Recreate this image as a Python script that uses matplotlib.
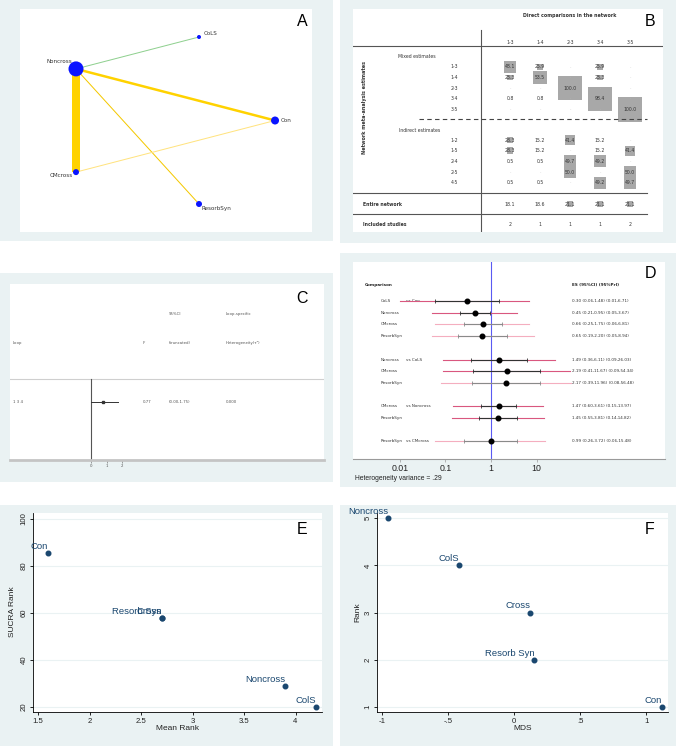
import numpy as np
import matplotlib
matplotlib.use("Agg")
import matplotlib.pyplot as plt
from matplotlib.patches import Rectangle
from matplotlib.ticker import NullLocator

# ======================= DATA =======================
# Panel A: network of treatments
net_nodes = ["Con", "CoLS", "Noncross", "CMcross", "ResorbSyn"]
net_node_weight = [4.0, 2.0, 7.5, 3.0, 3.0]
net_edge_from = ["Noncross", "Noncross", "Noncross", "Noncross", "CMcross"]
net_edge_to = ["CoLS", "Con", "CMcross", "ResorbSyn", "Con"]
net_edge_weight = [1.0, 2.5, 8.0, 1.0, 1.0]

# Panel B: contribution matrix
contrib_cols = ["1-3", "1-4", "2-3", "3-4", "3-5"]
mixed_rows = ["1-3", "1-4", "2-3", "3-4", "3-5"]
mixed_vals = [[48.1, 25.9, None, 25.9, None],
              [23.3, 53.5, None, 23.3, None],
              [None, None, 100.0, None, None],
              [0.8, 0.8, None, 98.4, None],
              [None, None, None, None, 100.0]]
indirect_rows = ["1-2", "1-5", "2-4", "2-5", "4-5"]
indirect_vals = [[28.3, 15.2, 41.4, 15.2, None],
                 [28.3, 15.2, None, 15.2, 41.4],
                 [0.5, 0.5, 49.7, 49.2, None],
                 [None, None, 50.0, None, 50.0],
                 [0.5, 0.5, None, 49.2, 49.7]]
entire_network = [18.1, 18.6, 21.1, 21.1, 21.1]
included_studies = [2, 1, 1, 1, 2]

# Panel C: inconsistency loop
loop_names = ["1 3 4"]
loop_if = [0.77]
loop_ci_lo = [0.00]
loop_ci_hi = [1.75]
loop_tau2 = ["0.000"]

# Panel D: interval plot
d_reference = ["Con", "CoLS", "Noncross", "CMcross"]
d_treatments = [["CoLS", "Noncross", "CMcross", "ResorbSyn"],
                ["Noncross", "CMcross", "ResorbSyn"],
                ["CMcross", "ResorbSyn"],
                ["ResorbSyn"]]
d_es = [0.30, 0.45, 0.66, 0.65, 1.49, 2.19, 2.17, 1.47, 1.45, 0.99]
d_ci_lo = [0.06, 0.21, 0.25, 0.19, 0.36, 0.41, 0.39, 0.60, 0.55, 0.26]
d_ci_hi = [1.48, 0.95, 1.75, 2.20, 6.11, 11.67, 11.96, 3.61, 3.81, 3.72]
d_pi_lo = [0.01, 0.05, 0.06, 0.05, 0.09, 0.09, 0.08, 0.15, 0.14, 0.06]
d_pi_hi = [6.71, 3.67, 6.81, 8.94, 26.03, 54.34, 56.48, 13.97, 14.82, 15.48]
d_faded = [False, False, True, True, False, False, True, False, False, True]
heterogeneity_variance = ".29"

# Panel E: SUCRA vs mean rank
e_labels = ["Con", "Cross", "Resorb Syn", "Noncross", "ColS"]
e_mean_rank = [1.6, 2.7, 2.7, 3.9, 4.2]
e_sucra = [85.7, 58.0, 58.0, 28.9, 19.8]

# Panel F: MDS rank
f_labels = ["Noncross", "ColS", "Cross", "Resorb Syn", "Con"]
f_mds = [-0.955, -0.416, 0.123, 0.153, 1.122]
f_rank = [5, 4, 3, 2, 1]

# ======================= LAYOUT =======================
W, H = 676, 746
BG = "#eaf2f3"
NAVY = "#1a476f"
TXT = "#333333"
PX2PT = 72.0 / 100.0

fig = plt.figure(figsize=(W / 100, H / 100), dpi=100)
fig.patch.set_facecolor("white")


def frect(x0, y0, x1, y1):
    return [x0 / W, 1 - y1 / H, (x1 - x0) / W, (y1 - y0) / H]


def bg(x0, y0, x1, y1):
    fig.add_artist(Rectangle((x0 / W, 1 - y1 / H), (x1 - x0) / W, (y1 - y0) / H,
                             transform=fig.transFigure, facecolor=BG,
                             edgecolor="none", zorder=-10))


def blank_axes(x0, y0, x1, y1):
    ax = fig.add_axes(frect(x0, y0, x1, y1))
    ax.set_facecolor("white")
    for s in ax.spines.values():
        s.set_visible(False)
    ax.set_xticks([])
    ax.set_yticks([])
    return ax


def ftext(px, py, s, **kw):
    fig.text(px / W, 1 - py / H, s, **kw)


letter_kw = dict(fontsize=11.5, family="Liberation Sans", ha="center", va="center", color="black")

# ---------------- Panel A ----------------
bg(0, 0, 333, 241)
axA = blank_axes(20, 9, 312, 232)
angles = np.deg2rad(np.arange(len(net_nodes)) * 72.0)
pos = {n: (np.cos(a), np.sin(a)) for n, a in zip(net_nodes, angles)}
axA.set_xlim(-1.318, 1.336)
axA.set_ylim(-1.27, 1.27)
edge_colors = ["#8fd08f", "#ffd200", "#ffd200", "#f4c800", "#ffe37f"]
for a, b, w, c in zip(net_edge_from, net_edge_to, net_edge_weight, edge_colors):
    (xa, ya), (xb, yb) = pos[a], pos[b]
    axA.plot([xa, xb], [ya, yb], color=c, lw=w * PX2PT, solid_capstyle="butt", zorder=1)
for n, w in zip(net_nodes, net_node_weight):
    axA.scatter([pos[n][0]], [pos[n][1]], s=(2 * w * PX2PT) ** 2, color="#0a14ff",
                edgecolors="none", zorder=3)
lab_style = {"Con": ((4, 0), "left", "center"),
             "CoLS": ((3, 2.5), "left", "center"),
             "Noncross": ((-3, 3.5), "right", "bottom"),
             "CMcross": ((-2, -1), "right", "top"),
             "ResorbSyn": ((2, -1.5), "left", "top")}
for n in net_nodes:
    off, ha, va = lab_style[n]
    axA.annotate(n, pos[n], xytext=off, textcoords="offset points", ha=ha, va=va,
                 fontsize=4.1, color=TXT)
ftext(302, 21, "A", **letter_kw)

# ---------------- Panel B ----------------
bg(340, 0, 676, 243)
axB = blank_axes(353, 9, 663, 232)
axB.set_xlim(353, 663)
axB.set_ylim(232, 9)
colx = [510 + 30 * j for j in range(len(contrib_cols))]
fsB = 3.3
axB.text(570, 15, "Direct comparisons in the network", ha="center", va="center",
         fontsize=3.4, fontweight="bold", color=TXT)
for x, c in zip(colx, contrib_cols):
    axB.text(x, 43, c, ha="center", va="center", fontsize=fsB, color=TXT)
axB.plot([353, 663], [46, 46], color="#555555", lw=0.8)
axB.plot([481, 481], [30, 232], color="#555555", lw=0.8)
axB.text(398, 57, "Mixed estimates", ha="left", va="center", fontsize=fsB, color=TXT)
axB.text(399, 130, "Indirect estimates", ha="left", va="center", fontsize=fsB, color=TXT)
axB.plot([419, 647], [119, 119], color="#444444", lw=0.8, dashes=(4, 3))
axB.text(365, 107, "Network meta-analysis estimates", rotation=90, ha="center",
         va="center", fontsize=3.5, fontweight="bold", color=TXT)


def cell(x, y, v):
    if v is None:
        axB.text(x, y, "-", ha="center", va="center", fontsize=2.6, color="#bbbbbb")
        return
    if v >= 20:
        side = 0.245 * v
        axB.add_patch(Rectangle((x - side / 2, y - side / 2), side, side,
                                facecolor="#a8a8a8", edgecolor="none", zorder=1))
    axB.text(x, y, f"{v:.1f}", ha="center", va="center", fontsize=fsB, color=TXT, zorder=2)


for i, (lab, rv) in enumerate(zip(mixed_rows, mixed_vals)):
    y = 67 + 10.6 * i
    axB.text(454, y, lab, ha="center", va="center", fontsize=fsB, color=TXT)
    for x, v in zip(colx, rv):
        cell(x, y, v)
for i, (lab, rv) in enumerate(zip(indirect_rows, indirect_vals)):
    y = 140 + 10.7 * i
    axB.text(454, y, lab, ha="center", va="center", fontsize=fsB, color=TXT)
    for x, v in zip(colx, rv):
        cell(x, y, v)
axB.plot([353, 647], [193, 193], color="#555555", lw=0.8)
axB.text(363, 204, "Entire network", ha="left", va="center", fontsize=fsB,
         fontweight="bold", color=TXT)
for x, v in zip(colx, entire_network):
    cell(x, 204, v)
axB.plot([353, 647], [214, 214], color="#555555", lw=0.8)
axB.text(363, 224, "Included studies", ha="left", va="center", fontsize=fsB,
         fontweight="bold", color=TXT)
for x, v in zip(colx, included_studies):
    axB.text(x, 224, str(v), ha="center", va="center", fontsize=fsB, color=TXT)
ftext(650, 21, "B", **letter_kw)

# ---------------- Panel C ----------------
bg(0, 273, 333, 482)
axC = fig.add_axes(frect(10, 284, 324, 460))
axC.set_facecolor("white")
c_scale = 15.5
c_zero = 91
axC.set_xlim((10 - c_zero) / c_scale, (324 - c_zero) / c_scale)
axC.set_ylim(460, 284)
for k, s in axC.spines.items():
    s.set_visible(k == "bottom")
axC.spines["bottom"].set_color("#c4c4c4")
axC.spines["bottom"].set_linewidth(2.0)
axC.set_yticks([])
axC.set_xticks([0, 1, 2])
axC.set_xticklabels(["0", "1", "2"])
axC.tick_params(axis="x", length=2, width=0.5, color="#777777", labelsize=2.8,
                labelcolor="#555555", pad=1)
cx = lambda px: (px - c_zero) / c_scale
fsC = 2.8
ctc = "#555555"
axC.text(cx(169), 314, "95%CI", fontsize=fsC, color=ctc, va="center")
axC.text(cx(226), 314, "Loop-specific", fontsize=fsC, color=ctc, va="center")
axC.text(cx(13), 343, "Loop", fontsize=fsC, color=ctc, va="center")
axC.text(cx(143), 343, "IF", fontsize=fsC, color=ctc, va="center")
axC.text(cx(169), 343, "(truncated)", fontsize=fsC, color=ctc, va="center")
axC.text(cx(226), 343, "Heterogeneity(\u03c4\u00b2)", fontsize=fsC, color=ctc, va="center")
axC.plot(axC.get_xlim(), [379, 379], color="#cfcfcf", lw=0.8)
axC.plot([0, 0], [379, 460], color="#555555", lw=0.8)
for i, (nm, v, lo, hi, t2) in enumerate(zip(loop_names, loop_if, loop_ci_lo, loop_ci_hi, loop_tau2)):
    y = 402 + 20 * i
    axC.plot([lo, hi], [y, y], color="#333333", lw=0.7)
    axC.plot([v], [y], marker="s", ms=1.8, color="#333333")
    axC.text(cx(13), y, nm, fontsize=fsC, color=ctc, va="center")
    axC.text(cx(143), y, f"{v:.2f}", fontsize=fsC, color=ctc, va="center")
    axC.text(cx(169), y, f"({lo:.2f},{hi:.2f})", fontsize=fsC, color=ctc, va="center")
    axC.text(cx(226), y, t2, fontsize=fsC, color=ctc, va="center")
ftext(302, 299, "C", **letter_kw)

# ---------------- Panel D ----------------
bg(340, 253, 676, 487)
axD = fig.add_axes(frect(353, 262, 665, 459))
axD.set_facecolor("white")
axD.set_xscale("log")
axD.set_xlim(10 ** -3.03, 10 ** 3.82)
axD.set_ylim(13.5, -3.33)
for k, s in axD.spines.items():
    s.set_visible(k == "bottom")
axD.spines["bottom"].set_color("#9a9a9a")
axD.spines["bottom"].set_linewidth(0.8)
axD.set_yticks([])
axD.set_xticks([0.01, 0.1, 1, 10])
axD.set_xticklabels(["0.01", "0.1", "1", "10"], family="Liberation Sans")
axD.xaxis.set_minor_locator(NullLocator())
axD.tick_params(axis="x", length=2, width=0.5, color="#9a9a9a", labelsize=6.3,
                labelcolor="#222222", pad=1.5)
axD.axvline(1, color="#5a5af2", lw=0.8, zorder=1)
lx = lambda px: 10 ** ((px - 491) / 45.5)
fsD = 3.0
axD.text(lx(365), -1.37, "Comparison", fontsize=fsD, fontweight="bold", va="center", color="#222222")
axD.text(lx(572), -1.37, "ES (95%CI) (95%PrI)", fontsize=fsD, fontweight="bold", va="center", color="#222222")
row = 0
idx = 0
for ref, trts in zip(d_reference, d_treatments):
    for j, t in enumerate(trts):
        y = row
        fade = d_faded[idx]
        pink = "#f4aebf" if fade else "#d9577f"
        dark = "#8a8a8a" if fade else "#333333"
        axD.text(lx(381), y, t, fontsize=fsD, va="center", color="#333333", zorder=2)
        if j == 0:
            axD.text(lx(406), y, "vs " + ref, fontsize=fsD, va="center", color="#333333", zorder=2)
        axD.plot([d_pi_lo[idx], d_pi_hi[idx]], [y, y], color=pink, lw=0.8, zorder=3)
        axD.plot([d_ci_lo[idx], d_ci_hi[idx]], [y, y], color=dark, lw=0.8, zorder=4)
        axD.plot([d_ci_lo[idx], d_ci_hi[idx]], [y, y], ls="none", marker="|", ms=2.5,
                 mew=0.6, color=dark, zorder=4)
        axD.plot([d_es[idx]], [y], marker="o", ms=3.3, color="black", zorder=5)
        axD.text(lx(572), y,
                 f"{d_es[idx]:.2f} ({d_ci_lo[idx]:.2f},{d_ci_hi[idx]:.2f}) ({d_pi_lo[idx]:.2f},{d_pi_hi[idx]:.2f})",
                 fontsize=fsD, va="center", color="#333333")
        row += 1
        idx += 1
    row += 1
ftext(355, 479, "Heterogeneity variance = " + heterogeneity_variance, fontsize=4.9,
      family="Liberation Sans", ha="left", va="center", color="#222222")
ftext(650, 273, "D", **letter_kw)


# ---------------- Panels E & F ----------------
def scatter_panel(rect, xs, ys, labels, xlim, ylim, xticks, xticklabels, yticks):
    ax = fig.add_axes(frect(*rect))
    ax.set_facecolor("white")
    ax.set_axisbelow(True)
    ax.plot(xs, ys, ls="none", marker="o", ms=3.3, color=NAVY, zorder=3, clip_on=False)
    for lab, x, y in zip(labels, xs, ys):
        ax.annotate(lab, (x, y), xytext=(0, 1.5), textcoords="offset points",
                    ha="right", va="bottom", fontsize=6.8, color=NAVY,
                    family="Liberation Sans", annotation_clip=False)
    ax.set_xlim(*xlim)
    ax.set_ylim(*ylim)
    ax.set_xticks(xticks)
    ax.set_xticklabels(xticklabels, family="Liberation Sans")
    ax.set_yticks(yticks)
    ax.set_yticklabels([str(v) for v in yticks], family="Liberation Sans",
                       rotation=90, va="center")
    ax.yaxis.grid(True, color=BG, lw=0.8)
    ax.spines["top"].set_visible(False)
    ax.spines["right"].set_visible(False)
    for k in ("left", "bottom"):
        ax.spines[k].set_linewidth(0.6)
        ax.spines[k].set_color("black")
    ax.tick_params(length=2.5, width=0.6, labelsize=5.6, pad=1.5, labelcolor="#222222")
    return ax


bg(0, 505, 333, 746)
scatter_panel((33, 513, 322, 712), e_mean_rank, e_sucra, e_labels,
              (1.4515, 4.257), (17.87, 102.55),
              [1.5, 2, 2.5, 3, 3.5, 4], ["1.5", "2", "2.5", "3", "3.5", "4"],
              [20, 40, 60, 80, 100])
ftext(177, 729, "Mean Rank", fontsize=6, family="Liberation Sans", ha="center", va="center", color="#222222")
ftext(13, 612, "SUCRA Rank", fontsize=6, family="Liberation Sans", ha="center", va="center",
      rotation=90, color="#222222")
ftext(302, 529, "E", **letter_kw)

bg(340, 505, 676, 746)
scatter_panel((377, 513, 668, 712), f_mds, f_rank, f_labels,
              (-1.04, 1.166), (0.887, 5.113),
              [-1, -0.5, 0, 0.5, 1], ["-1", "-.5", "0", ".5", "1"],
              [1, 2, 3, 4, 5])
ftext(523, 729, "MDS", fontsize=6, family="Liberation Sans", ha="center", va="center", color="#222222")
ftext(358, 612, "Rank", fontsize=6, family="Liberation Sans", ha="center", va="center",
      rotation=90, color="#222222")
ftext(650, 529, "F", **letter_kw)

fig.savefig("out.png", dpi=100)
